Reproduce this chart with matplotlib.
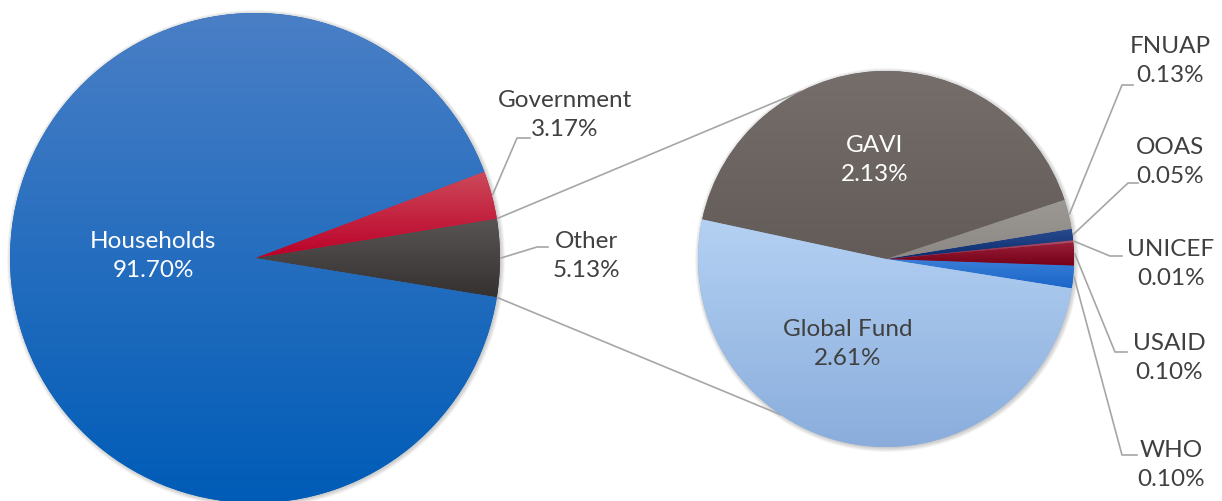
import matplotlib
matplotlib.use('Agg')
import matplotlib.pyplot as plt
import numpy as np
from matplotlib.colors import to_rgb
from matplotlib.patches import Circle

plt.rcParams['font.family'] = ['Lato', 'DejaVu Sans']

# main pie (Other is exploded into the right pie)
main_labels = ['Other', 'Government', 'Households']
main_values = [5.13, 3.17, 91.70]
main_top = ['#5a5555', '#cc4a5a', '#4a7fc6']
main_bottom = ['#363131', '#bb0028', '#005cb7']

# breakdown of "Other"
sub_labels = ['WHO', 'USAID', 'UNICEF', 'OOAS', 'FNUAP', 'GAVI', 'Global Fund']
sub_values = [0.10, 0.10, 0.01, 0.05, 0.13, 2.13, 2.61]
sub_top = ['#3a7fd8', '#9a2038', '#b05068', '#2a4c90', '#9c9894', '#756e6b', '#b4d1f3']
sub_bottom = ['#1a66c8', '#740018', '#8a2040', '#0a2a6c', '#8c8884', '#625b58', '#8aaddc']

H = 501
left_c, left_r = (255, H - 258), 245
right_c, right_r = (886, H - 259), 188

# label layout, pixel coords (y from top): text centre, elbow, end of leader
outside = {
    'Government': (565, 115, 517, 138, 530),
    'Other': (586, 256, 537, 247, 548),
    'FNUAP': (1170, 61, 1122, 85, 1133),
    'OOAS': (1170, 162, 1128, 183, 1138),
    'UNICEF': (1171, 264, 1110, 256, 1122),
    'USAID': (1169, 358, 1115, 352, 1127),
    'WHO': (1171, 465, 1122, 455, 1137),
}
inside = {
    'Households': (153, 256, 'white'),
    'GAVI': (875, 160, 'white'),
    'Global Fund': (848, 344, '#404040'),
}

txt_color = '#404040'
line_color = '#a6a6a6'
fs = 17.5


def shade(ax, wedge, top, bottom):
    x0, y0, x1, y1 = wedge.get_path().get_extents().extents
    t = np.linspace(0, 1, 256)[:, None, None]
    c0, c1 = np.array(to_rgb(top)), np.array(to_rgb(bottom))
    img = c0 + (c1 - c0) * t
    im = ax.imshow(img, extent=(x0, x1, y0, y1), origin='upper', aspect='auto',
                   interpolation='bilinear', zorder=2)
    im.set_clip_path(wedge)


def shadow(ax, c, r):
    for k in range(6):
        ax.add_patch(Circle((c[0] + 1, c[1] - 1), r + 0.8 * k, fc=(0, 0, 0, 0.035),
                            ec='none', zorder=0.5))


def edge_point(c, r, ang):
    a = np.deg2rad(ang)
    return c[0] + r * np.cos(a), c[1] + r * np.sin(a)


fig = plt.figure(figsize=(12.22, 5.01), dpi=100)
ax = fig.add_axes([0, 0, 1, 1])

shadow(ax, left_c, left_r)
shadow(ax, right_c, right_r)

main_start = -360 * main_values[0] / sum(main_values) / 2
w_main, _ = ax.pie(main_values, startangle=main_start, center=left_c, radius=left_r,
                   colors=main_bottom, wedgeprops=dict(linewidth=0))
w_sub, _ = ax.pie(sub_values, startangle=-9, center=right_c, radius=right_r,
                  colors=sub_bottom, wedgeprops=dict(linewidth=0))

for w, t, b in zip(w_main, main_top, main_bottom):
    shade(ax, w, t, b)
for w, t, b in zip(w_sub, sub_top, sub_bottom):
    shade(ax, w, t, b)

# connector lines between the two pies
other = w_main[0]
for ang_l, ang_r in [(other.theta2, 117), (other.theta1, -124)]:
    p0 = edge_point(left_c, left_r, ang_l)
    p1 = edge_point(right_c, right_r, ang_r)
    ax.plot([p0[0], p1[0]], [p0[1], p1[1]], color=line_color, lw=1.2, zorder=1)

# labels
for wedges, labels, values, c, r in [(w_main, main_labels, main_values, left_c, left_r),
                                     (w_sub, sub_labels, sub_values, right_c, right_r)]:
    for w, name, v in zip(wedges, labels, values):
        s = f'{name}\n{v:.2f}%'
        if name in inside:
            x, y, col = inside[name]
            ax.text(x, H - y, s, color=col, fontsize=fs, ha='center', va='center',
                    linespacing=1.45, zorder=5)
        else:
            tx, ty, ex, ey, endx = outside[name]
            ax.text(tx, H - ty, s, color=txt_color, fontsize=fs, ha='center', va='center',
                    linespacing=1.45, zorder=5)
            p0 = edge_point(c, r + 1, (w.theta1 + w.theta2) / 2)
            ax.plot([p0[0], ex, endx], [p0[1], H - ey, H - ey], color=line_color,
                    lw=1.2, zorder=1)

ax.set_xlim(0, 1222)
ax.set_ylim(0, H)
ax.set_aspect('equal')
ax.axis('off')

fig.savefig('out.png', dpi=100, facecolor='white')
